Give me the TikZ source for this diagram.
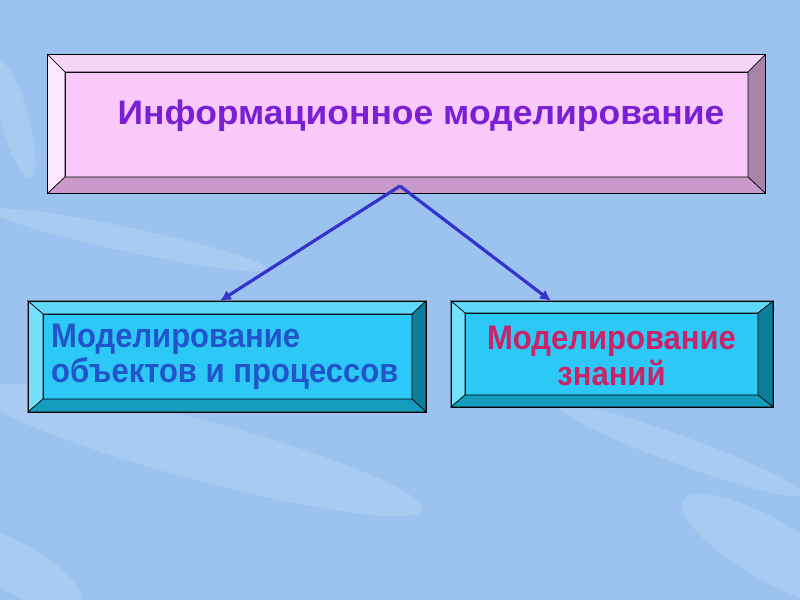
\documentclass[tikz,border=0pt]{standalone}
\usepackage{fontspec}
\setmainfont{Liberation Sans}
\usetikzlibrary{arrows.meta}
\definecolor{bgblue}{HTML}{9CC3F0}
\definecolor{pface}{HTML}{F9C9F9}
\definecolor{ptop}{HTML}{F5D5F5}
\definecolor{pleft}{HTML}{FDE7FD}
\definecolor{pright}{HTML}{A883A8}
\definecolor{pbot}{HTML}{C99AC9}
\definecolor{cface}{HTML}{2CC8F6}
\definecolor{ctop}{HTML}{5FD7F8}
\definecolor{cleft}{HTML}{74E0FB}
\definecolor{cright}{HTML}{0B7E99}
\definecolor{cbot}{HTML}{159CBE}
\definecolor{arrowblue}{HTML}{3434CC}
\definecolor{titlecol}{HTML}{7A1FD6}
\definecolor{bluetext}{HTML}{2255CC}
\definecolor{redtext}{HTML}{CC2266}
\tikzset{
  outerbox/.style={rectangle, inner sep=0pt, outer sep=0pt},
  face/.style={rectangle, draw=black, line width=0.8pt, inner sep=0pt, outer sep=0pt},
  bevel/.style={draw=black, line width=0.6pt, line join=miter},
  conn/.style={draw=arrowblue, line width=3.2pt, -{Latex[length=11pt,width=11pt]}},
  btext/.style={font=\bfseries\fontsize{34}{33.5}\selectfont, inner sep=0pt},
}
\newcommand{\bevels}[6]{%
  \filldraw[bevel, fill=#3] (#1.north west) -- (#1.north east) -- (#2.north east) -- (#2.north west) -- cycle;
  \filldraw[bevel, fill=#4] (#1.north west) -- (#2.north west) -- (#2.south west) -- (#1.south west) -- cycle;
  \filldraw[bevel, fill=#5] (#1.north east) -- (#1.south east) -- (#2.south east) -- (#2.north east) -- cycle;
  \filldraw[bevel, fill=#6] (#1.south west) -- (#2.south west) -- (#2.south east) -- (#1.south east) -- cycle;
}
\begin{document}
\begin{tikzpicture}[x=1pt, y=-1pt]
\useasboundingbox (0,0) rectangle (800,600);
\fill[bgblue] (0,0) rectangle (800,600);
% faint background streaks
\begin{scope}[opacity=0.14]
  \fill[white, rotate around={-15:(200,450)}] (200,450) ellipse (230 and 30);
  \fill[white, rotate around={-30:(770,550)}] (770,550) ellipse (100 and 30);
  \fill[white, rotate around={-30:(20,570)}] (20,570) ellipse (70 and 25);
  \fill[white, rotate around={-20:(680,450)}] (680,450) ellipse (130 and 14);
  \fill[white, rotate around={-75:(15,120)}] (15,120) ellipse (60 and 14);
  \fill[white, rotate around={-12:(130,240)}] (130,240) ellipse (140 and 12);
\end{scope}
% top box
\node[outerbox, minimum width=718, minimum height=139] (topO) at (406.5,124) {};
\node[face, fill=pface, minimum width=683, minimum height=105] (topI) at (406.5,124.5) {};
\bevels{topO}{topI}{ptop}{pleft}{pright}{pbot}
\draw[black, line width=0.8pt] (topO.north west) rectangle (topO.south east);
\node[font=\bfseries\fontsize{34}{37}\selectfont, text=titlecol, anchor=base, inner sep=0pt] (title) at (421,124) {\scalebox{1.044}[1]{Информационное моделирование}};
% bottom left box
\node[outerbox, minimum width=398, minimum height=111] (leftO) at (227,356.5) {};
\node[face, fill=cface, minimum width=369, minimum height=85] (leftI) at (227.5,356.5) {};
\bevels{leftO}{leftI}{ctop}{cleft}{cright}{cbot}
\draw[black, line width=0.8pt] (leftO.north west) rectangle (leftO.south east);
\node[btext, text=bluetext, anchor=base west] (ltext) at (51,382) {\scalebox{0.912}[1]{\begin{tabular}[b]{@{}l@{}}Моделирование\\объектов и процессов\end{tabular}}};
% bottom right box
\node[outerbox, minimum width=322, minimum height=106] (rightO) at (612,354) {};
\node[face, fill=cface, minimum width=293, minimum height=82] (rightI) at (611.5,354) {};
\bevels{rightO}{rightI}{ctop}{cleft}{cright}{cbot}
\draw[black, line width=0.8pt] (rightO.north west) rectangle (rightO.south east);
\node[btext, text=redtext, anchor=base] (rtext) at (611.5,385) {\scalebox{0.912}[1]{\begin{tabular}[b]{@{}c@{}}Моделирование\\знаний\end{tabular}}};
% connectors
\coordinate (apex) at (400,186);
\coordinate (ltip) at (leftO.north -| 220,0);
\coordinate (rtip) at (rightO.north -| 551,0);
\draw[conn] (apex) -- (ltip);
\draw[conn] (apex) -- (rtip);
\end{tikzpicture}
\end{document}
